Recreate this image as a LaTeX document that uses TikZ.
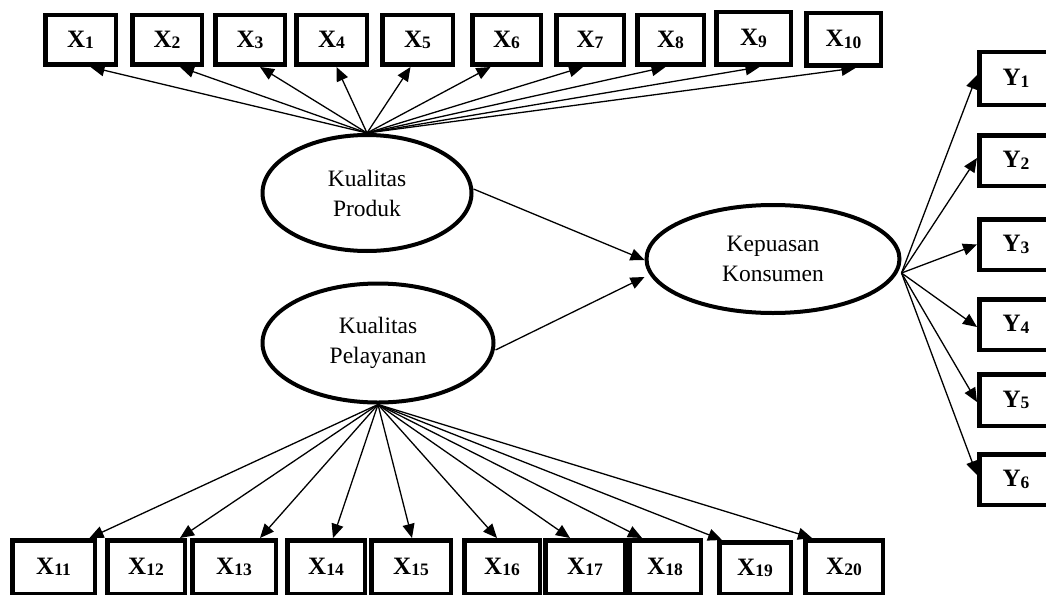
\documentclass[tikz,border=0pt]{standalone}
\usepackage{fontspec}
\setmainfont{Liberation Serif}
\usetikzlibrary{arrows.meta,shapes.geometric}
\newcommand\vlab[2]{\textbf{#1\raisebox{-1.5pt}{\fontsize{17.5}{17.5}\selectfont #2}}}
\tikzset{
  bx/.style={draw, line width=4.5pt, inner sep=0pt, font=\fontsize{25}{25}\selectfont\bfseries},
  lat/.style={draw, ellipse, line width=4pt, inner sep=0pt, align=center,
    font=\fontsize{23.5}{30}\selectfont},
  arr/.style={line width=1.3pt, -{Triangle[length=14pt,width=12pt]}}
}
\begin{document}
\begin{tikzpicture}[x=1pt,y=-1pt]
\useasboundingbox (0,0) rectangle (1046,594);
% latent variables
\node[lat, minimum width=209pt, minimum height=116pt] (kp) at (367,193) {Kualitas\\Produk};
\node[lat, minimum width=231pt, minimum height=119pt] (kpel) at (378,343) {Kualitas\\Pelayanan};
\node[lat, minimum width=253pt, minimum height=108pt] (kk) at (773,259) {Kepuasan\\Konsumen};
% top indicators
\node[bx, minimum width=70.5pt, minimum height=49.5pt] (x1) at (80.5,40) {\vlab{X}{1}};
\node[bx, minimum width=69.5pt, minimum height=49.5pt] (x2) at (167,40) {\vlab{X}{2}};
\node[bx, minimum width=69.5pt, minimum height=49.5pt] (x3) at (250,40) {\vlab{X}{3}};
\node[bx, minimum width=70.5pt, minimum height=49.5pt] (x4) at (331.5,40) {\vlab{X}{4}};
\node[bx, minimum width=70.5pt, minimum height=49.5pt] (x5) at (417.5,40) {\vlab{X}{5}};
\node[bx, minimum width=68.5pt, minimum height=49.5pt] (x6) at (506.5,40) {\vlab{X}{6}};
\node[bx, minimum width=67.5pt, minimum height=49.5pt] (x7) at (590,40) {\vlab{X}{7}};
\node[bx, minimum width=66.5pt, minimum height=49.5pt] (x8) at (670.5,40) {\vlab{X}{8}};
\node[bx, minimum width=74.5pt, minimum height=52.5pt] (x9) at (753.5,38.5) {\vlab{X}{9}};
\node[bx, minimum width=74.5pt, minimum height=52.5pt] (x10) at (843.5,39.5) {\vlab{X}{10}};
% bottom indicators
\node[bx, minimum width=82.5pt, minimum height=53.5pt] (x11) at (53.5,567) {\vlab{X}{11}};
\node[bx, minimum width=77.5pt, minimum height=53.5pt] (x12) at (146,567) {\vlab{X}{12}};
\node[bx, minimum width=83.5pt, minimum height=53.5pt] (x13) at (234,567) {\vlab{X}{13}};
\node[bx, minimum width=77.5pt, minimum height=53.5pt] (x14) at (326,567) {\vlab{X}{14}};
\node[bx, minimum width=79.5pt, minimum height=53.5pt] (x15) at (411,567) {\vlab{X}{15}};
\node[bx, minimum width=75.5pt, minimum height=53.5pt] (x16) at (502,567) {\vlab{X}{16}};
\node[bx, minimum width=79.5pt, minimum height=53.5pt] (x17) at (585,567) {\vlab{X}{17}};
\node[bx, minimum width=71.5pt, minimum height=53.5pt] (x18) at (665,567) {\vlab{X}{18}};
\node[bx, minimum width=71.5pt, minimum height=51.5pt] (x19) at (755,568) {\vlab{X}{19}};
\node[bx, minimum width=77.5pt, minimum height=53.5pt] (x20) at (844,567) {\vlab{X}{20}};
% right indicators
\node[bx, minimum width=73.5pt, minimum height=52.5pt] (y1) at (1016,78.5) {\vlab{Y}{1}};
\node[bx, minimum width=73.5pt, minimum height=50.5pt] (y2) at (1016,160.5) {\vlab{Y}{2}};
\node[bx, minimum width=73.5pt, minimum height=50.5pt] (y3) at (1016,244.5) {\vlab{Y}{3}};
\node[bx, minimum width=73.5pt, minimum height=50.5pt] (y4) at (1016,324.5) {\vlab{Y}{4}};
\node[bx, minimum width=73.5pt, minimum height=51.5pt] (y5) at (1016,400) {\vlab{Y}{5}};
\node[bx, minimum width=73.5pt, minimum height=50.5pt] (y6) at (1016,479.5) {\vlab{Y}{6}};
% top arrows
\draw[arr] (kp.north) -- ([xshift=10pt]x1.south);
\draw[arr] (kp.north) -- ([xshift=13pt]x2.south);
\draw[arr] (kp.north) -- ([xshift=10pt]x3.south);
\draw[arr] (kp.north) -- ([xshift=5pt]x4.south);
\draw[arr] (kp.north) -- ([xshift=-7pt]x5.south);
\draw[arr] (kp.north) -- ([xshift=-16pt]x6.south);
\draw[arr] (kp.north) -- ([xshift=-7pt]x7.south);
\draw[arr] (kp.north) -- ([xshift=-5pt]x8.south);
\draw[arr] (kp.north) -- ([xshift=6pt]x9.south);
\draw[arr] (kp.north) -- ([xshift=12pt]x10.south);
% bottom arrows
\draw[arr] (kpel.south) -- ([xshift=36pt]x11.north);
\draw[arr] (kpel.south) -- ([xshift=34pt]x12.north);
\draw[arr] (kpel.south) -- ([xshift=26pt]x13.north);
\draw[arr] (kpel.south) -- ([xshift=7pt]x14.north);
\draw[arr] (kpel.south) -- ([xshift=1pt]x15.north);
\draw[arr] (kpel.south) -- ([xshift=-5pt]x16.north);
\draw[arr] (kpel.south) -- ([xshift=-15pt]x17.north);
\draw[arr] (kpel.south) -- ([xshift=-23pt]x18.north);
\draw[arr] (kpel.south) -- ([xshift=-33pt]x19.north);
\draw[arr] (kpel.south) -- ([xshift=-32pt]x20.north);
% structural arrows
\draw[arr] ([yshift=4pt]kp.east) -- ([yshift=-1pt]kk.west);
\draw[arr] ([yshift=-7pt]kpel.east) -- ([yshift=-18pt]kk.west);
% right arrows
\coordinate (ko) at ([yshift=-14pt]kk.east);
\draw[arr] (ko) -- ([yshift=3.5pt]y1.west);
\draw[arr] (ko) -- ([yshift=2.5pt]y2.west);
\draw[arr] (ko) -- (y3.west);
\draw[arr] (ko) -- ([yshift=-2.5pt]y4.west);
\draw[arr] (ko) -- ([yshift=-2pt]y5.west);
\draw[arr] (ko) -- ([yshift=4.5pt]y6.west);
\end{tikzpicture}
\end{document}
